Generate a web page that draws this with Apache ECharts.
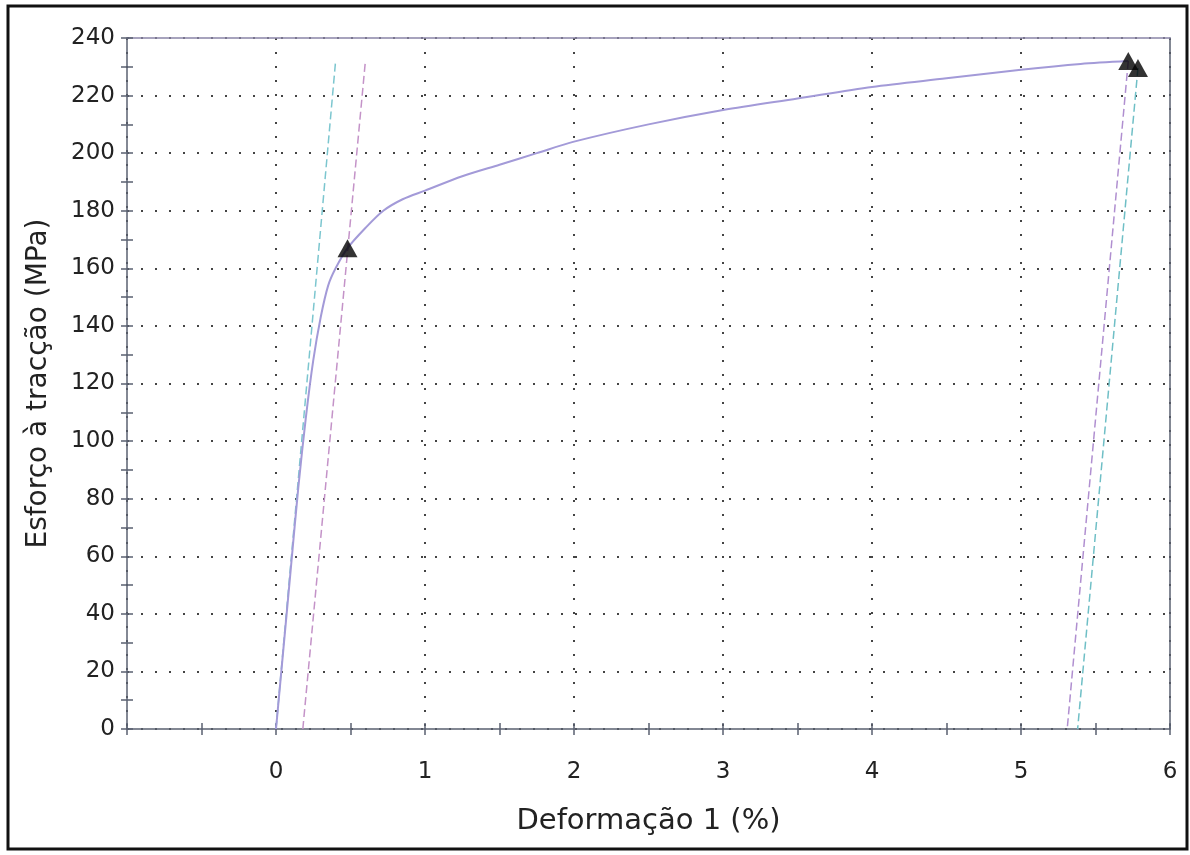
<!DOCTYPE html>
<html>
<head>
<meta charset="utf-8">
<script src="https://cdn.jsdelivr.net/npm/echarts@6/dist/echarts.min.js"></script>
<style>
html,body{margin:0;padding:0;background:#fff;}
#chart{width:1190px;height:855px;}
</style>
</head>
<body>
<div id="chart"></div>
<script>
// Stress-strain curve (strain %, stress MPa)
const curveX = [0, 0.05, 0.10, 0.15, 0.20, 0.25, 0.30, 0.35, 0.40, 0.48, 0.60, 0.72, 0.85, 1.00, 1.25, 1.50, 1.75, 2.00, 2.50, 3.00, 3.50, 4.00, 4.50, 5.00, 5.40, 5.72];
const curveY = [0, 28, 56, 84, 108, 128, 143, 154, 160, 167, 174, 180, 184, 187, 192, 196, 200, 204, 210, 215, 219, 223, 226, 229, 231, 232];
// elastic / offset lines
const elasticX = [0.00, 0.40];
const elasticY = [0, 232];
const offsetX = [0.18, 0.60];
const offsetY = [0, 232];
// unloading lines from the end points
const unload1X = [5.72, 5.31];
const unload1Y = [232, 0];
const unload2X = [5.785, 5.38];
const unload2Y = [229.6, 0];
// triangle markers
const markerX = [0.48, 5.72, 5.785];
const markerY = [167, 232, 229.6];

const xTitle = 'Deformação 1 (%)';
const yTitle = 'Esforço à tracção (MPa)';

function pairs(xs, ys) { return xs.map((x, i) => [x, ys[i]]); }

const axisColor = '#5a6070';
const font = 'DejaVu Sans, Verdana, sans-serif';

const chart = echarts.init(document.getElementById('chart'));
const baseX = { type: 'value', min: -1, max: 6, interval: 1, gridIndex: 0 };
const baseY = { type: 'value', min: 0, max: 240, interval: 20, gridIndex: 0 };
chart.setOption({
  backgroundColor: '#fff',
  animation: false,
  grid: { left: 127, right: 20, top: 38, bottom: 126, containLabel: false },
  graphic: [{
    type: 'rect', shape: { x: 8, y: 6, width: 1179, height: 843 },
    style: { fill: 'none', stroke: '#111', lineWidth: 3 }, z: 100
  }],
  xAxis: [
    Object.assign({}, baseX, {
      position: 'bottom',
      name: xTitle, nameLocation: 'middle', nameGap: 78,
      nameTextStyle: { fontFamily: font, fontSize: 29, color: '#222' },
      axisLine: { show: true, onZero: false, lineStyle: { color: axisColor, width: 1.5 } },
      axisTick: { show: true, inside: false, length: 6, lineStyle: { color: axisColor, width: 1.5 } },
      minorTick: { show: true, splitNumber: 2, length: 6, lineStyle: { color: axisColor, width: 1.5 } },
      axisLabel: { margin: 32, fontFamily: font, fontSize: 23, color: '#222',
        formatter: v => (v === -1 ? '' : String(v)) },
      splitLine: { show: true, lineStyle: { color: '#444', type: [2, 12], width: 2 } }
    }),
    Object.assign({}, baseX, {
      position: 'bottom',
      axisLine: { show: false, onZero: false },
      axisTick: { show: true, inside: true, length: 6, lineStyle: { color: axisColor, width: 1.5 } },
      minorTick: { show: true, splitNumber: 2, length: 6, lineStyle: { color: axisColor, width: 1.5 } },
      axisLabel: { show: false },
      splitLine: { show: false }
    }),
    Object.assign({}, baseX, {
      position: 'top',
      axisLine: { show: true, onZero: false, lineStyle: { color: '#8a85a8', width: 1.5 } },
      axisTick: { show: false }, axisLabel: { show: false }, splitLine: { show: false }
    })
  ],
  yAxis: [
    Object.assign({}, baseY, {
      position: 'left',
      name: yTitle, nameLocation: 'middle', nameGap: 74,
      nameTextStyle: { fontFamily: font, fontSize: 28, color: '#222' },
      axisLine: { show: true, onZero: false, lineStyle: { color: axisColor, width: 1.5 } },
      axisTick: { show: true, inside: false, length: 6, lineStyle: { color: axisColor, width: 1.5 } },
      minorTick: { show: true, splitNumber: 2, length: 6, lineStyle: { color: axisColor, width: 1.5 } },
      axisLabel: { margin: 12, fontFamily: font, fontSize: 23, color: '#222' },
      splitLine: { show: true, lineStyle: { color: '#444', type: [2, 12], width: 2 } }
    }),
    Object.assign({}, baseY, {
      position: 'left',
      axisLine: { show: false, onZero: false },
      axisTick: { show: true, inside: true, length: 6, lineStyle: { color: axisColor, width: 1.5 } },
      minorTick: { show: true, splitNumber: 2, length: 6, lineStyle: { color: axisColor, width: 1.5 } },
      axisLabel: { show: false }, splitLine: { show: false }
    }),
    Object.assign({}, baseY, {
      position: 'right',
      axisLine: { show: true, onZero: false, lineStyle: { color: axisColor, width: 1.5 } },
      axisTick: { show: false }, axisLabel: { show: false }, splitLine: { show: false }
    })
  ],
  series: [
    {
      type: 'line', xAxisIndex: 0, yAxisIndex: 0, data: pairs(elasticX, elasticY),
      symbol: 'none', lineStyle: { color: '#7cc6cf', width: 1.5, type: [8, 4] }
    },
    {
      type: 'line', xAxisIndex: 0, yAxisIndex: 0, data: pairs(offsetX, offsetY),
      symbol: 'none', lineStyle: { color: '#c493c8', width: 1.5, type: [8, 4] }
    },
    {
      type: 'line', xAxisIndex: 0, yAxisIndex: 0, data: pairs(curveX, curveY),
      symbol: 'none', smooth: 0.3,
      lineStyle: { color: '#a39ad8', width: 2 }
    },
    {
      type: 'line', xAxisIndex: 0, yAxisIndex: 0, data: pairs(unload1X, unload1Y),
      symbol: 'none', lineStyle: { color: '#b08fd0', width: 1.5, type: [8, 4] }
    },
    {
      type: 'line', xAxisIndex: 0, yAxisIndex: 0, data: pairs(unload2X, unload2Y),
      symbol: 'none', lineStyle: { color: '#6fbfc6', width: 1.5, type: [8, 4] }
    },
    {
      type: 'scatter', xAxisIndex: 0, yAxisIndex: 0, data: pairs(markerX, markerY),
      symbol: 'triangle', symbolSize: [20, 18],
      itemStyle: { color: '#000' }, z: 10
    }
  ]
});
</script>
</body>
</html>
